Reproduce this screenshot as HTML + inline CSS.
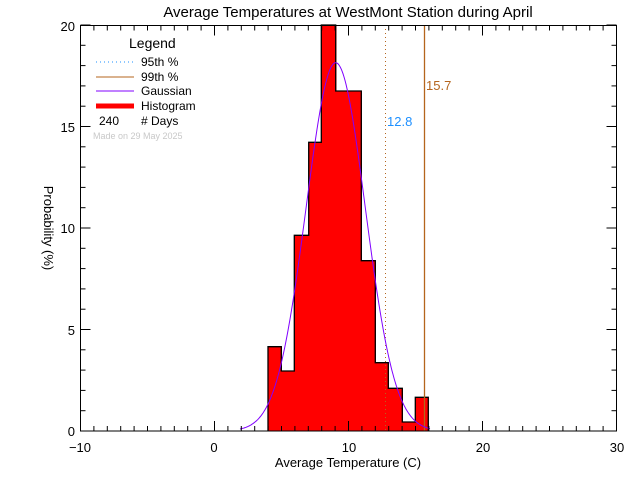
<!DOCTYPE html>
<html><head><meta charset="utf-8"><style>
html,body{margin:0;padding:0;background:#fff;}
svg{display:block;}
text{font-family:"Liberation Sans",sans-serif;}
</style></head><body>
<svg id="s" width="640" height="480" xmlns="http://www.w3.org/2000/svg">
<rect width="640" height="480" fill="#fff"/>
<g id="bars"></g>
<line x1="385.5" y1="25" x2="385.5" y2="431" stroke="#b5651d" stroke-width="1" stroke-dasharray="1,3"/>
<line x1="424.5" y1="25" x2="424.5" y2="431" stroke="#b5651d" stroke-width="1.3"/>
<polyline id="gauss" fill="none" stroke="#8000ff" stroke-width="1"/>
<rect x="80.5" y="25.5" width="536" height="405.5" fill="none" stroke="#000" stroke-width="1"/>
<g id="ticks" stroke="#000" stroke-width="1"></g>
<text x="348" y="17" font-size="15" text-anchor="middle">Average Temperatures at WestMont Station during April</text>
<g font-size="13" text-anchor="middle">
<text x="80" y="452">−10</text><text x="214" y="452">0</text><text x="349" y="452">10</text><text x="483" y="452">20</text><text x="617" y="452">30</text>
</g>
<g font-size="13" text-anchor="end">
<text x="75" y="436">0</text><text x="75" y="335">5</text><text x="75" y="233">10</text><text x="75" y="132">15</text><text x="75" y="31">20</text>
</g>
<text x="348" y="467" font-size="13" text-anchor="middle">Average Temperature (C)</text>
<text transform="translate(44,228) rotate(90)" font-size="13" text-anchor="middle">Probability  (%)</text>
<text x="129" y="48" font-size="14">Legend</text>
<line x1="96" y1="62" x2="134" y2="62" stroke="#1e90ff" stroke-dasharray="1,3"/>
<text x="141" y="66" font-size="12">95th %</text>
<line x1="96" y1="77" x2="134" y2="77" stroke="#b5651d"/>
<text x="141" y="81" font-size="12">99th %</text>
<line x1="96" y1="91" x2="134" y2="91" stroke="#8000ff"/>
<text x="141" y="95" font-size="12">Gaussian</text>
<line x1="96" y1="106" x2="134" y2="106" stroke="#f00" stroke-width="5"/>
<text x="141" y="110" font-size="12">Histogram</text>
<text x="99" y="125" font-size="12">240</text>
<text x="141" y="125" font-size="12"># Days</text>
<text x="93" y="139" font-size="9" fill="#c8c8c8">Made on 29 May 2025</text>
<text x="387" y="126" font-size="13" fill="#1e90ff">12.8</text>
<text x="426" y="90" font-size="13" fill="#b5651d">15.7</text>
</svg>
<script>
var NS="http://www.w3.org/2000/svg";
function el(p,t,a){var e=document.createElementNS(NS,t);for(var k in a)e.setAttribute(k,a[k]);p.appendChild(e);return e;}
var xs=[268,281.3,294.3,308.7,321.3,335.7,361.3,375.3,388.3,402.3,415.3,428.3];
var ys=[346.7,371,235.3,142.3,25,91,260.7,362.7,388.3,422,397.3];
var b=document.getElementById('bars');
var d="M"+xs[0]+",431";
for(var i=0;i<ys.length;i++){
 var w=xs[i+1]-xs[i]+(i<ys.length-1?0.6:0);
 el(b,'rect',{x:xs[i],y:ys[i],width:w,height:431-ys[i],fill:'#f00','shape-rendering':'crispEdges'});
 d+=" L"+xs[i]+","+ys[i]+" L"+xs[i+1]+","+ys[i];
}
d+=" L"+xs[xs.length-1]+",431";
el(b,'path',{d:d,fill:'none',stroke:'#000','stroke-width':1.3});
var pts=[];
for(var x=240;x<=430;x+=1){var z=(x-335.7)/29.6;var y=431-368.3*Math.exp(-z*z/2);pts.push(x+","+y.toFixed(1));}
document.getElementById('gauss').setAttribute('points',pts.join(' '));
var t=document.getElementById('ticks');
for(var v=-10;v<=30;v++){var X=80.5+(v+10)*13.4;var L=(v%10==0)?10:5;
 el(t,'line',{x1:X,y1:431,x2:X,y2:431-L});el(t,'line',{x1:X,y1:25.5,x2:X,y2:25.5+L});}
for(var v=0;v<=20;v++){var Y=431-v*20.3;var L=(v%5==0)?10:5;
 el(t,'line',{x1:80.5,y1:Y,x2:80.5+L,y2:Y});el(t,'line',{x1:616.5,y1:Y,x2:616.5-L,y2:Y});}
</script>
</body></html>
